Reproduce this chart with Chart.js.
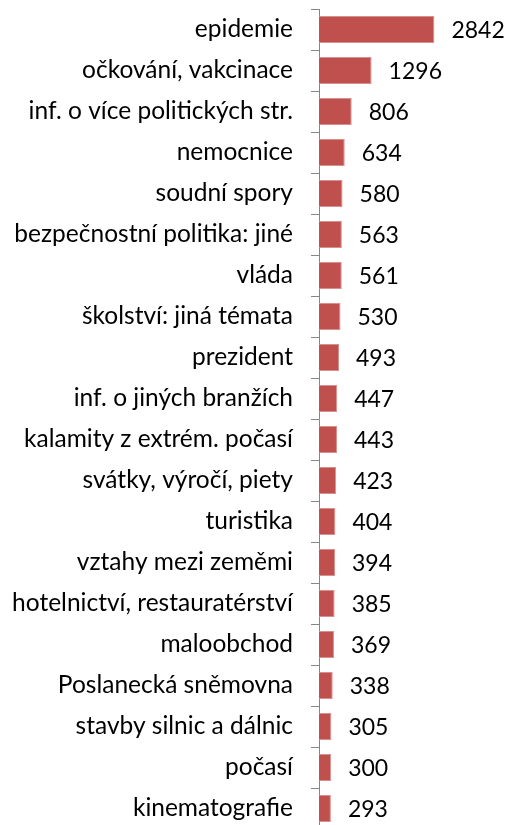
<!DOCTYPE html>
<html><head><meta charset="utf-8">
<script src="https://cdn.jsdelivr.net/npm/chart.js@4/dist/chart.umd.min.js"></script>
<style>
html,body{margin:0;padding:0;background:#fff;overflow:hidden;}
#wrap{position:relative;width:505px;height:838px;}
</style></head>
<body>
<div id="wrap"><canvas id="c"></canvas></div>
<script>
const categories = ["epidemie","očkování, vakcinace","inf. o více politických str.","nemocnice","soudní spory","bezpečnostní politika: jiné","vláda","školství: jiná témata","prezident","inf. o jiných branžích","kalamity z extrém. počasí","svátky, výročí, piety","turistika","vztahy mezi zeměmi","hotelnictví, restauratérství","maloobchod","Poslanecká sněmovna","stavby silnic a dálnic","počasí","kinematografie"];
const values = [2842,1296,806,634,580,563,561,530,493,447,443,423,404,394,385,369,338,305,300,293];

const FONT = 'Lato';
const FS_LABEL = 24.5;
const FS_VALUE = 23;

const valueLabels = {
  id:'valueLabels',
  afterDatasetsDraw(chart){
    const ctx = chart.ctx;
    const meta = chart.getDatasetMeta(0);
    ctx.save();
    ctx.font = FS_VALUE + 'px ' + FONT;
    ctx.fillStyle = '#000';
    ctx.textAlign = 'left';
    ctx.textBaseline = 'middle';
    meta.data.forEach((bar,i)=>{
      ctx.fillText(String(values[i]), bar.x + 17, bar.y + 1);
    });
    ctx.restore();
  }
};

new Chart(document.getElementById('c'), {
  type:'bar',
  data:{labels:categories, datasets:[{data:values, backgroundColor:'#C0504D', borderColor:'#D8908E', borderWidth:1, barPercentage:0.66, categoryPercentage:1}]},
  options:{
    indexAxis:'y', responsive:true, maintainAspectRatio:false, animation:false,
    layout:{padding:{top:9,right:23.6,bottom:9,left:0}},
    plugins:{legend:{display:false}, tooltip:{enabled:false}},
    scales:{
      x:{display:false, min:0, max:4000},
      y:{
        afterFit(s){ s.width = 319; s.paddingTop = 0; s.paddingBottom = 0; },
        border:{display:true, color:'#868686', width:1},
        grid:{display:true, drawOnChartArea:false, drawTicks:true, tickLength:8, color:'#868686', offset:true},
        ticks:{color:'#000', font:{family:FONT, size:FS_LABEL}, padding:18, autoSkip:false}
      }
    }
  },
  plugins:[valueLabels]
});
</script>
</body></html>
